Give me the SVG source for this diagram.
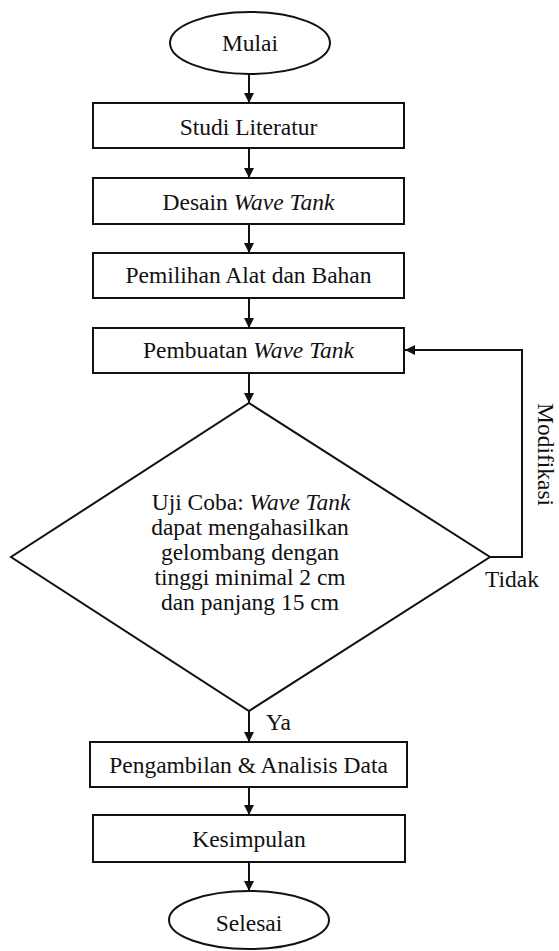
<svg xmlns="http://www.w3.org/2000/svg" width="559" height="951" viewBox="0 0 559 951">
<style>
.shape{fill:#fff;stroke:#111;stroke-width:2}
.t{font-family:"Liberation Serif","Times New Roman",serif;font-size:23.5px;fill:#111;text-anchor:middle}
.l{font-family:"Liberation Serif","Times New Roman",serif;font-size:23.5px;fill:#111}
.it{font-style:italic}
.c{fill:none;stroke:#111;stroke-width:2}
</style>
<defs>
<marker id="ah" markerWidth="10" markerHeight="10" viewBox="0 0 10 10" refX="10" refY="5" orient="auto" markerUnits="userSpaceOnUse">
<path d="M0,0 L10,5 L0,10 Z" fill="#111"/>
</marker>
</defs>
<rect width="559" height="951" fill="#fff"/>
<g id="connectors">
<line class="c" x1="249" y1="74" x2="249" y2="103" marker-end="url(#ah)"/>
<line class="c" x1="249" y1="148" x2="249" y2="178" marker-end="url(#ah)"/>
<line class="c" x1="249" y1="224" x2="249" y2="253" marker-end="url(#ah)"/>
<line class="c" x1="249" y1="298" x2="249" y2="328" marker-end="url(#ah)"/>
<line class="c" x1="249" y1="373" x2="249" y2="403" marker-end="url(#ah)"/>
<line class="c" x1="249" y1="711" x2="249" y2="742" marker-end="url(#ah)"/>
<line class="c" x1="249" y1="787" x2="249" y2="815" marker-end="url(#ah)"/>
<line class="c" x1="249" y1="862" x2="249" y2="891" marker-end="url(#ah)"/>
<polyline class="c" points="490,557 522,557 522,350 405,350" marker-end="url(#ah)"/>
<text class="l" x="266" y="730">Ya</text>
<text class="l" x="485" y="587">Tidak</text>
<text class="l" font-size="22" transform="translate(538,403) rotate(90)">Modifikasi</text>
</g>
<g id="mulai">
<ellipse class="shape" cx="250" cy="43" rx="80" ry="31"/>
<text class="t" x="250" y="51">Mulai</text>
</g>
<g id="studi">
<rect class="shape" x="93" y="103" width="311" height="45"/>
<text class="t" x="248.5" y="135">Studi Literatur</text>
</g>
<g id="desain">
<rect class="shape" x="93" y="178" width="311" height="46"/>
<text class="t" x="248.5" y="210">Desain <tspan class="it">Wave Tank</tspan></text>
</g>
<g id="pemilihan">
<rect class="shape" x="93" y="253" width="311" height="45"/>
<text class="t" x="248.5" y="283">Pemilihan Alat dan Bahan</text>
</g>
<g id="pembuatan">
<rect class="shape" x="93" y="328" width="311" height="45"/>
<text class="t" x="248.5" y="358">Pembuatan <tspan class="it">Wave Tank</tspan></text>
</g>
<g id="ujicoba">
<polygon class="shape" points="249,403 490,557 249,711 11,557"/>
<text class="t" x="251" y="510">Uji Coba: <tspan class="it">Wave Tank</tspan></text>
<text class="t" x="250" y="535">dapat mengahasilkan</text>
<text class="t" x="250" y="560">gelombang dengan</text>
<text class="t" x="250" y="585">tinggi minimal 2 cm</text>
<text class="t" x="250" y="610">dan panjang 15 cm</text>
</g>
<g id="pengambilan">
<rect class="shape" x="90" y="742" width="317" height="45"/>
<text class="t" x="248.5" y="773">Pengambilan &amp; Analisis Data</text>
</g>
<g id="kesimpulan">
<rect class="shape" x="93" y="815" width="312" height="47"/>
<text class="t" x="249" y="847">Kesimpulan</text>
</g>
<g id="selesai">
<ellipse class="shape" cx="249" cy="920" rx="80" ry="29"/>
<text class="t" x="249" y="931">Selesai</text>
</g>
</svg>
